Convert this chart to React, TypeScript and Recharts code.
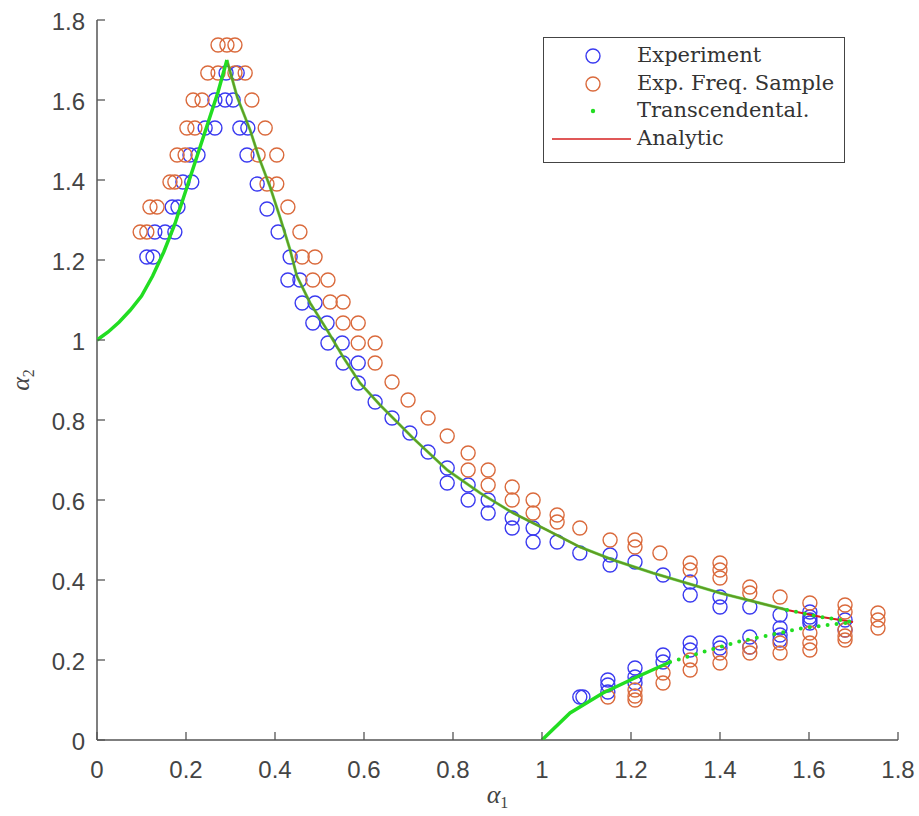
import React from 'react';
import { ComposedChart, Scatter, XAxis, YAxis, Legend } from 'recharts';

const xTicks = [0, 0.2, 0.4, 0.6, 0.8, 1, 1.2, 1.4, 1.6, 1.8];
const yTicks = [0, 0.2, 0.4, 0.6, 0.8, 1, 1.2, 1.4, 1.6, 1.8];

const experimentUpper: [number, number][] = [
  [0.29, 1.6675], [0.315, 1.6675],
  [0.265, 1.6], [0.288, 1.6], [0.306, 1.6],
  [0.243, 1.53], [0.265, 1.53], [0.321, 1.53], [0.339, 1.53],
  [0.209, 1.4625], [0.227, 1.4625], [0.337, 1.4625],
  [0.193, 1.395], [0.213, 1.395], [0.36, 1.39],
  [0.169, 1.3325], [0.182, 1.3325], [0.382, 1.3275],
  [0.13, 1.27], [0.153, 1.27], [0.175, 1.27], [0.407, 1.27],
  [0.112, 1.2075], [0.126, 1.2075], [0.434, 1.2075],
  [0.429, 1.15], [0.456, 1.15], [0.461, 1.0925], [0.49, 1.0925], [0.485, 1.0425], [0.517, 1.0425],
  [0.519, 0.9925], [0.551, 0.9925], [0.553, 0.9425], [0.587, 0.9425], [0.587, 0.8925], [0.625, 0.845],
  [0.663, 0.805], [0.703, 0.7675], [0.744, 0.72], [0.787, 0.68], [0.787, 0.6425], [0.834, 0.6375],
  [0.834, 0.6], [0.879, 0.6], [0.879, 0.5675], [0.933, 0.555], [0.933, 0.53], [0.98, 0.53], [0.98, 0.495],
  [1.034, 0.495], [1.085, 0.4675], [1.153, 0.4625], [1.153, 0.4375], [1.209, 0.445], [1.272, 0.4125],
  [1.333, 0.395], [1.333, 0.3625], [1.4, 0.3575], [1.4, 0.3325], [1.467, 0.3325], [1.535, 0.3125],
  [1.602, 0.32], [1.602, 0.3], [1.681, 0.3],
];

const experimentLower: [number, number][] = [
  [1.085, 0.1075], [1.092, 0.1075], [1.148, 0.15], [1.148, 0.1375], [1.148, 0.12],
  [1.209, 0.18], [1.209, 0.1575], [1.209, 0.1425], [1.272, 0.2125], [1.272, 0.195],
  [1.333, 0.2425], [1.333, 0.225], [1.4, 0.2425], [1.4, 0.23], [1.467, 0.2575], [1.467, 0.2325],
  [1.535, 0.28], [1.535, 0.2625], [1.535, 0.25], [1.602, 0.3075], [1.602, 0.2925], [1.681, 0.275],
];

const freqUpper: [number, number][] = [
  [0.272, 1.7375], [0.292, 1.7375], [0.31, 1.7375],
  [0.249, 1.6675], [0.272, 1.6675], [0.31, 1.6675], [0.333, 1.6675],
  [0.216, 1.6], [0.236, 1.6], [0.348, 1.6],
  [0.202, 1.53], [0.22, 1.53], [0.378, 1.53],
  [0.18, 1.4625], [0.198, 1.4625], [0.362, 1.4625], [0.404, 1.4625],
  [0.164, 1.395], [0.175, 1.395], [0.382, 1.39], [0.404, 1.39],
  [0.119, 1.3325], [0.135, 1.3325], [0.429, 1.3325],
  [0.097, 1.27], [0.112, 1.27], [0.456, 1.27],
  [0.461, 1.2075], [0.49, 1.2075], [0.485, 1.15], [0.519, 1.15],
  [0.524, 1.095], [0.553, 1.095], [0.553, 1.0425], [0.587, 1.0425],
  [0.587, 0.9925], [0.625, 0.9925], [0.625, 0.9425],
  [0.663, 0.895], [0.699, 0.85], [0.744, 0.805], [0.787, 0.76],
  [0.834, 0.7175], [0.834, 0.675], [0.879, 0.675], [0.879, 0.6375], [0.933, 0.6325], [0.933, 0.6],
  [0.98, 0.6], [0.98, 0.5675], [1.034, 0.5625], [1.034, 0.545], [1.085, 0.53], [1.153, 0.5],
  [1.209, 0.5], [1.209, 0.4825], [1.265, 0.4675],
  [1.333, 0.4425], [1.333, 0.425], [1.4, 0.4425], [1.4, 0.425], [1.4, 0.405],
  [1.467, 0.3825], [1.467, 0.3675], [1.535, 0.3575], [1.602, 0.3425],
  [1.681, 0.3375], [1.681, 0.32], [1.755, 0.3175], [1.755, 0.3], [1.755, 0.28],
];

const freqLower: [number, number][] = [
  [1.148, 0.1075], [1.209, 0.125], [1.209, 0.11], [1.209, 0.1],
  [1.272, 0.1675], [1.272, 0.1425], [1.333, 0.2], [1.333, 0.175],
  [1.4, 0.2175], [1.4, 0.1925], [1.467, 0.2325], [1.467, 0.2175],
  [1.535, 0.2425], [1.535, 0.2175], [1.602, 0.2675], [1.602, 0.2425], [1.602, 0.225],
  [1.681, 0.275], [1.681, 0.26], [1.681, 0.25],
];

const transLeft: [number, number][] = [
  [0, 1.0], [0.025, 1.02], [0.05, 1.045], [0.075, 1.075], [0.1, 1.11], [0.125, 1.16], [0.15, 1.22],
  [0.175, 1.29], [0.2, 1.375], [0.225, 1.46], [0.25, 1.545], [0.272, 1.62], [0.292, 1.7],
];

const transDesc: [number, number][] = [
  [0.292, 1.7], [0.315, 1.6075], [0.344, 1.525], [0.366, 1.45], [0.389, 1.3825], [0.411, 1.3075],
  [0.434, 1.225], [0.449, 1.16], [0.479, 1.0925], [0.517, 1.025], [0.553, 0.9575], [0.591, 0.8925],
  [0.636, 0.8375], [0.71, 0.755], [0.787, 0.675], [0.861, 0.6175], [0.935, 0.5675], [1.011, 0.525],
  [1.085, 0.4825], [1.16, 0.45], [1.249, 0.4175], [1.4, 0.3675], [1.551, 0.325],
];

const transDescTail: [number, number][] = [
  [1.551, 0.325], [1.625, 0.308], [1.699, 0.295],
];

const transLower: [number, number][] = [
  [1.0, 0.0], [1.063, 0.0675], [1.137, 0.1175], [1.213, 0.1575], [1.288, 0.195],
];

const transLowerTail: [number, number][] = [
  [1.288, 0.195], [1.362, 0.22], [1.438, 0.245], [1.512, 0.2625], [1.587, 0.28], [1.663, 0.29], [1.699, 0.295],
];

const analytic: [number, number][] = [
  [0.292, 1.7], [0.315, 1.6075], [0.344, 1.525], [0.366, 1.45], [0.389, 1.3825], [0.411, 1.3075],
  [0.434, 1.225], [0.449, 1.16], [0.479, 1.0925], [0.517, 1.025], [0.553, 0.9575], [0.591, 0.8925],
  [0.636, 0.8375], [0.71, 0.755], [0.787, 0.675], [0.861, 0.6175], [0.935, 0.5675], [1.011, 0.525],
  [1.085, 0.4825], [1.16, 0.45], [1.249, 0.4175], [1.4, 0.3675], [1.551, 0.325], [1.625, 0.308], [1.699, 0.295],
];

const BLUE = '#3a3af0';
const ORANGE = '#da6a3c';
const GREEN = '#22dd22';
const RED = '#d62020';
const AXIS = '#555555';
const TEXT = '#444444';

const toPts = (a: [number, number][]) => a.map(([x, y]) => ({ x, y }));

const nothing = () => <g />;

const blueCircle = (p: any) => (
  <circle cx={p.cx} cy={p.cy} r={7} fill="none" stroke={BLUE} strokeWidth={1.4} />
);
const orangeCircle = (p: any) => (
  <circle cx={p.cx} cy={p.cy} r={7} fill="none" stroke={ORANGE} strokeWidth={1.4} />
);

const fmt = (v: number) => String(v);

const XTick = (p: any) => (
  <g>
    <line x1={p.x} y1={p.y} x2={p.x} y2={p.y - 8} stroke={AXIS} strokeWidth={1.3} />
    <text x={p.x} y={p.y + 38} textAnchor="middle" fill={TEXT} fontSize={24}
      fontFamily="'Liberation Sans', Arial, sans-serif">{fmt(p.payload.value)}</text>
  </g>
);

const YTick = (p: any) => (
  <g>
    <line x1={p.x} y1={p.y} x2={p.x + 8} y2={p.y} stroke={AXIS} strokeWidth={1.3} />
    <text x={p.x - 12} y={p.y + 10} textAnchor="end" fill={TEXT} fontSize={24}
      fontFamily="'Liberation Sans', Arial, sans-serif">{fmt(p.payload.value)}</text>
  </g>
);

const XLabel = (p: any) => {
  const vb = p.viewBox || { x: 97, y: 740, width: 801, height: 76 };
  return (
    <text x={vb.x + vb.width / 2} y={vb.y + 63} textAnchor="middle" fill={TEXT}
      fontFamily="'Liberation Serif', serif" fontStyle="italic" fontSize={26}>
      α<tspan fontSize={16} fontStyle="normal" dy={5}>1</tspan>
    </text>
  );
};

const YLabel = () => (
  <text x={0} y={0} transform="translate(29,380) rotate(-90)" textAnchor="middle" fill={TEXT}
    fontFamily="'Liberation Serif', serif" fontStyle="italic" fontSize={26}>
    α<tspan fontSize={16} fontStyle="normal" dy={5}>2</tspan>
  </text>
);

const legendFont = "'DejaVu Serif', 'Liberation Serif', serif";

const LegendBox = () => {
  const rows = [
    { label: 'Experiment', kind: 'blue' },
    { label: 'Exp. Freq. Sample', kind: 'orange' },
    { label: 'Transcendental.', kind: 'green' },
    { label: 'Analytic', kind: 'red' },
  ];
  return (
    <div style={{ width: 302, height: 126, border: '1.5px solid #444', background: '#fff', boxSizing: 'border-box', position: 'relative' }}>
      {rows.map((r, i) => (
        <div key={r.label} style={{ position: 'absolute', left: 0, top: 4 + i * 27.5, height: 27, width: 300 }}>
          <svg width={90} height={27} style={{ position: 'absolute', left: 0, top: 0 }}>
            {r.kind === 'blue' && <circle cx={49} cy={14} r={7} fill="none" stroke={BLUE} strokeWidth={1.4} />}
            {r.kind === 'orange' && <circle cx={49} cy={14} r={7} fill="none" stroke={ORANGE} strokeWidth={1.4} />}
            {r.kind === 'green' && <circle cx={49} cy={14} r={2.2} fill={GREEN} />}
            {r.kind === 'red' && <line x1={8} y1={14} x2={87} y2={14} stroke={RED} strokeWidth={1.5} />}
          </svg>
          <span style={{ position: 'absolute', left: 93, top: 0, fontFamily: legendFont, fontSize: 21, color: '#333', whiteSpace: 'nowrap', lineHeight: '27px' }}>{r.label}</span>
        </div>
      ))}
    </div>
  );
};

export default function App() {
  return (
    <div style={{ position: 'absolute', left: 0, top: 0, width: 919, height: 816, background: '#fff' }}>
      <ComposedChart width={919} height={816} margin={{ top: 20, right: 21, bottom: 0, left: 0 }}>
        <XAxis type="number" dataKey="x" domain={[0, 1.8]} ticks={xTicks} allowDataOverflow
          height={76} tickSize={0} tickMargin={0} tick={XTick} interval={0}
          axisLine={{ stroke: AXIS, strokeWidth: 1.5 }} label={XLabel} />
        <YAxis type="number" dataKey="y" domain={[0, 1.8]} ticks={yTicks} allowDataOverflow
          width={97} tickSize={0} tickMargin={0} tick={YTick} interval={0}
          axisLine={{ stroke: AXIS, strokeWidth: 1.5 }} label={YLabel} />
        <Legend layout="vertical" align="center" verticalAlign="middle" content={() => <LegendBox />}
          wrapperStyle={{ left: 543, top: 37, width: 302, height: 126 }} />
        <Scatter name="Experiment" data={toPts(experimentUpper)} shape={blueCircle} isAnimationActive={false} />
        <Scatter name="Experiment lower" data={toPts(experimentLower)} shape={blueCircle} isAnimationActive={false} />
        <Scatter name="Exp. Freq. Sample" data={toPts(freqUpper)} shape={orangeCircle} isAnimationActive={false} />
        <Scatter name="Exp. Freq. Sample lower" data={toPts(freqLower)} shape={orangeCircle} isAnimationActive={false} />
        <Scatter name="Analytic" data={toPts(analytic)} shape={nothing} isAnimationActive={false}
          line={{ stroke: RED, strokeWidth: 2 }} />
        <Scatter name="Transcendental left" data={toPts(transLeft)} shape={nothing} isAnimationActive={false}
          line={{ stroke: GREEN, strokeWidth: 3.5 }} />
        <Scatter name="Transcendental desc" data={toPts(transDesc)} shape={nothing} isAnimationActive={false}
          line={{ stroke: GREEN, strokeWidth: 3, strokeOpacity: 0.65 }} />
        <Scatter name="Transcendental desc tail" data={toPts(transDescTail)} shape={nothing} isAnimationActive={false}
          line={{ stroke: GREEN, strokeWidth: 4, strokeDasharray: '0 9', strokeLinecap: 'round' }} />
        <Scatter name="Transcendental lower" data={toPts(transLower)} shape={nothing} isAnimationActive={false}
          line={{ stroke: GREEN, strokeWidth: 3.5 }} />
        <Scatter name="Transcendental lower tail" data={toPts(transLowerTail)} shape={nothing} isAnimationActive={false}
          line={{ stroke: GREEN, strokeWidth: 4, strokeDasharray: '0 9', strokeLinecap: 'round' }} />
      </ComposedChart>
    </div>
  );
}
